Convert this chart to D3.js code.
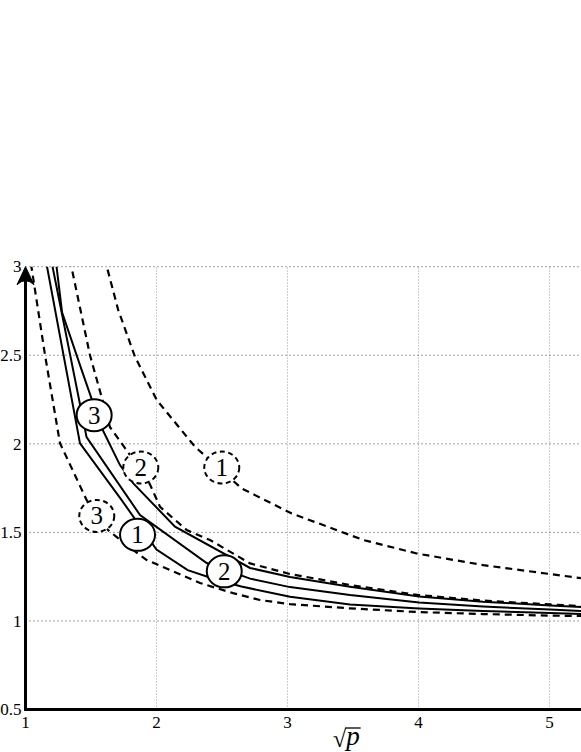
<!DOCTYPE html>
<html>
<head>
<meta charset="utf-8">
<script src="https://cdn.jsdelivr.net/npm/d3@7"></script>
<style>
  html, body { margin: 0; padding: 0; background: #fff; }
  svg { display: block; }
  .serif { font-family: 'Liberation Serif', 'Times New Roman', Times, 'DejaVu Serif', serif; }
</style>
</head>
<body>
<svg id="chart" width="581" height="752"></svg>
<script>
// ---- data ----
const xTicks = [1, 2, 3, 4, 5];
const yTicks = [0.5, 1, 1.5, 2, 2.5, 3];
const yTickLabels = ["0.5", "1", "1.5", "2", "2.5", "3"];
const yGrid = [1, 1.5, 2, 2.5, 3];
const xGrid = [2, 3, 4, 5];

// solid curves
const solid1X = [1, 1.416, 1.734, 2.0, 2.238, 2.452, 2.648, 3.019, 3.477, 4.004, 4.492, 5.004, 5.24];
const solid1Y = [3.652, 2.002, 1.682, 1.403, 1.287, 1.234, 1.194, 1.137, 1.093, 1.070, 1.056, 1.045, 1.039];

const solid2X = [1, 1.466, 1.874, 2.383, 2.714, 3.019, 3.477, 4.004, 4.492, 5.004, 5.24];
const solid2Y = [3.765, 2.038, 1.598, 1.327, 1.239, 1.191, 1.146, 1.104, 1.081, 1.064, 1.056];

const solid3X = [1, 1.279, 1.429, 1.582, 1.721, 1.823, 2.141, 2.714, 3.019, 3.477, 4.004, 4.492, 5.004, 5.24];
const solid3Y = [4.453, 2.743, 2.416, 2.089, 1.880, 1.777, 1.532, 1.299, 1.248, 1.193, 1.138, 1.109, 1.087, 1.078];

// dashed curves
const dashed1X = [1.416, 1.708, 1.836, 2.002, 2.294, 2.650, 3.032, 3.579, 3.986, 4.495, 5.195, 5.24];
const dashed1Y = [3.573, 2.755, 2.491, 2.247, 1.983, 1.748, 1.607, 1.457, 1.381, 1.315, 1.246, 1.242];

const dashed2X = [1, 1.492, 1.645, 1.935, 2.027, 2.231, 2.408, 2.714, 3.019, 3.477, 4.004, 4.492, 5.004, 5.24];
const dashed2Y = [4.233, 2.501, 2.094, 1.795, 1.644, 1.513, 1.457, 1.325, 1.265, 1.203, 1.146, 1.115, 1.093, 1.084];

const dashed3X = [1, 1.149, 1.263, 1.467, 1.630, 1.773, 1.925, 2.103, 2.332, 2.584, 2.790, 3.019, 3.477, 4.004, 4.492, 5.004, 5.24];
const dashed3Y = [3.217, 2.501, 2.004, 1.682, 1.513, 1.428, 1.344, 1.287, 1.214, 1.157, 1.118, 1.095, 1.071, 1.050, 1.039, 1.030, 1.028];

// circled curve labels
const labelText = ["3", "1", "2", "2", "1", "3"];
const labelDashed = [false, false, false, true, true, true];
const labelX = [1.524, 1.855, 2.517, 1.880, 2.498, 1.544];
const labelY = [2.162, 1.486, 1.280, 1.866, 1.866, 1.593];

// ---- drawing ----
const svg = d3.select("#chart");
const x = d3.scaleLinear().domain([1, 5.24]).range([25.5, 581]);
const y = d3.scaleLinear().domain([0.5, 3]).range([709.5, 266.7]);

svg.append("defs").append("clipPath").attr("id", "plotclip")
  .append("rect")
  .attr("x", x(1)).attr("y", y(3))
  .attr("width", x(5.24) - x(1)).attr("height", y(0.5) - y(3));

// grid lines
const gGrid = svg.append("g");
gGrid.selectAll("line.v").data(xGrid).enter().append("line")
  .attr("x1", d => x(d)).attr("x2", d => x(d))
  .attr("y1", y(0.5)).attr("y2", y(3))
  .attr("stroke", "#9a9a9a").attr("stroke-width", 1)
  .attr("stroke-dasharray", "1,2");
gGrid.selectAll("line.h").data(yGrid).enter().append("line")
  .attr("x1", x(1)).attr("x2", x(5.24))
  .attr("y1", d => y(d)).attr("y2", d => y(d))
  .attr("stroke", "#444").attr("stroke-width", 1)
  .attr("stroke-dasharray", "1,3");

// curves
const line = d3.line().x(d => x(d[0])).y(d => y(d[1]));
const zip = (a, b) => a.map((v, i) => [v, b[i]]);
const curves = [
  { pts: zip(solid1X, solid1Y), dashed: false },
  { pts: zip(solid2X, solid2Y), dashed: false },
  { pts: zip(solid3X, solid3Y), dashed: false },
  { pts: zip(dashed1X, dashed1Y), dashed: true },
  { pts: zip(dashed2X, dashed2Y), dashed: true },
  { pts: zip(dashed3X, dashed3Y), dashed: true }
];
const gCurves = svg.append("g").attr("clip-path", "url(#plotclip)");
gCurves.selectAll("path").data(curves).enter().append("path")
  .attr("d", d => line(d.pts))
  .attr("fill", "none")
  .attr("stroke", "#000")
  .attr("stroke-width", d => d.dashed ? 2.2 : 2)
  .attr("stroke-linejoin", "miter")
  .attr("stroke-dasharray", d => d.dashed ? "7,5" : null);

// circled labels
const labels = labelText.map((t, i) => ({ t, dashed: labelDashed[i], x: labelX[i], y: labelY[i] }));
const gLab = svg.append("g");
const lg = gLab.selectAll("g").data(labels).enter().append("g")
  .attr("transform", d => `translate(${x(d.x)},${y(d.y)})`);
lg.append("ellipse")
  .attr("rx", 17.5).attr("ry", 16)
  .attr("fill", "#fff").attr("stroke", "#000")
  .attr("stroke-width", 2)
  .attr("stroke-dasharray", d => d.dashed ? "5,3.5" : null);
lg.append("text")
  .attr("class", "serif")
  .attr("text-anchor", "middle")
  .attr("dy", "0.34em")
  .attr("font-size", 25)
  .text(d => d.t);

// axes lines
svg.append("line")
  .attr("x1", x(1)).attr("x2", x(5.24))
  .attr("y1", y(0.5)).attr("y2", y(0.5))
  .attr("stroke", "#000").attr("stroke-width", 3);
svg.append("line")
  .attr("x1", x(1)).attr("x2", x(1))
  .attr("y1", y(0.5) + 1.5).attr("y2", y(3) + 8)
  .attr("stroke", "#000").attr("stroke-width", 3);
// arrow head on the y axis
const tx = x(1), ty = y(3);
svg.append("path")
  .attr("d", `M${tx},${ty} L${tx + 8.5},${ty + 18} Q${tx},${ty + 10} ${tx - 8.5},${ty + 18} Z`)
  .attr("fill", "#000").attr("stroke", "#000").attr("stroke-width", 1);

// tick labels
svg.append("g").selectAll("text").data(yTicks).enter().append("text")
  .attr("class", "serif")
  .attr("x", 21.5).attr("y", d => y(d))
  .attr("dy", "0.34em")
  .attr("text-anchor", "end")
  .attr("font-size", 17)
  .text((d, i) => yTickLabels[i]);
svg.append("g").selectAll("text").data(xTicks).enter().append("text")
  .attr("class", "serif")
  .attr("x", d => x(d)).attr("y", 728)
  .attr("text-anchor", "middle")
  .attr("font-size", 17)
  .text(d => String(d));

// x axis title: sqrt(p)
const tg = svg.append("g");
const rad = tg.append("text")
  .attr("class", "serif")
  .attr("x", 333).attr("y", 747)
  .attr("font-size", 24)
  .text("\u221A");
const rw = rad.node().getComputedTextLength();
const pt = tg.append("text")
  .attr("class", "serif")
  .attr("x", 333 + rw).attr("y", 745)
  .attr("font-style", "italic").attr("font-size", 27)
  .text("p");
const pw = pt.node().getComputedTextLength();
const rb = rad.node().getBBox();
tg.append("line")
  .attr("x1", 333 + rw - 1).attr("x2", 333 + rw + pw + 1)
  .attr("y1", rb.y + 2).attr("y2", rb.y + 2)
  .attr("stroke", "#000").attr("stroke-width", 1.3);
</script>
</body>
</html>
